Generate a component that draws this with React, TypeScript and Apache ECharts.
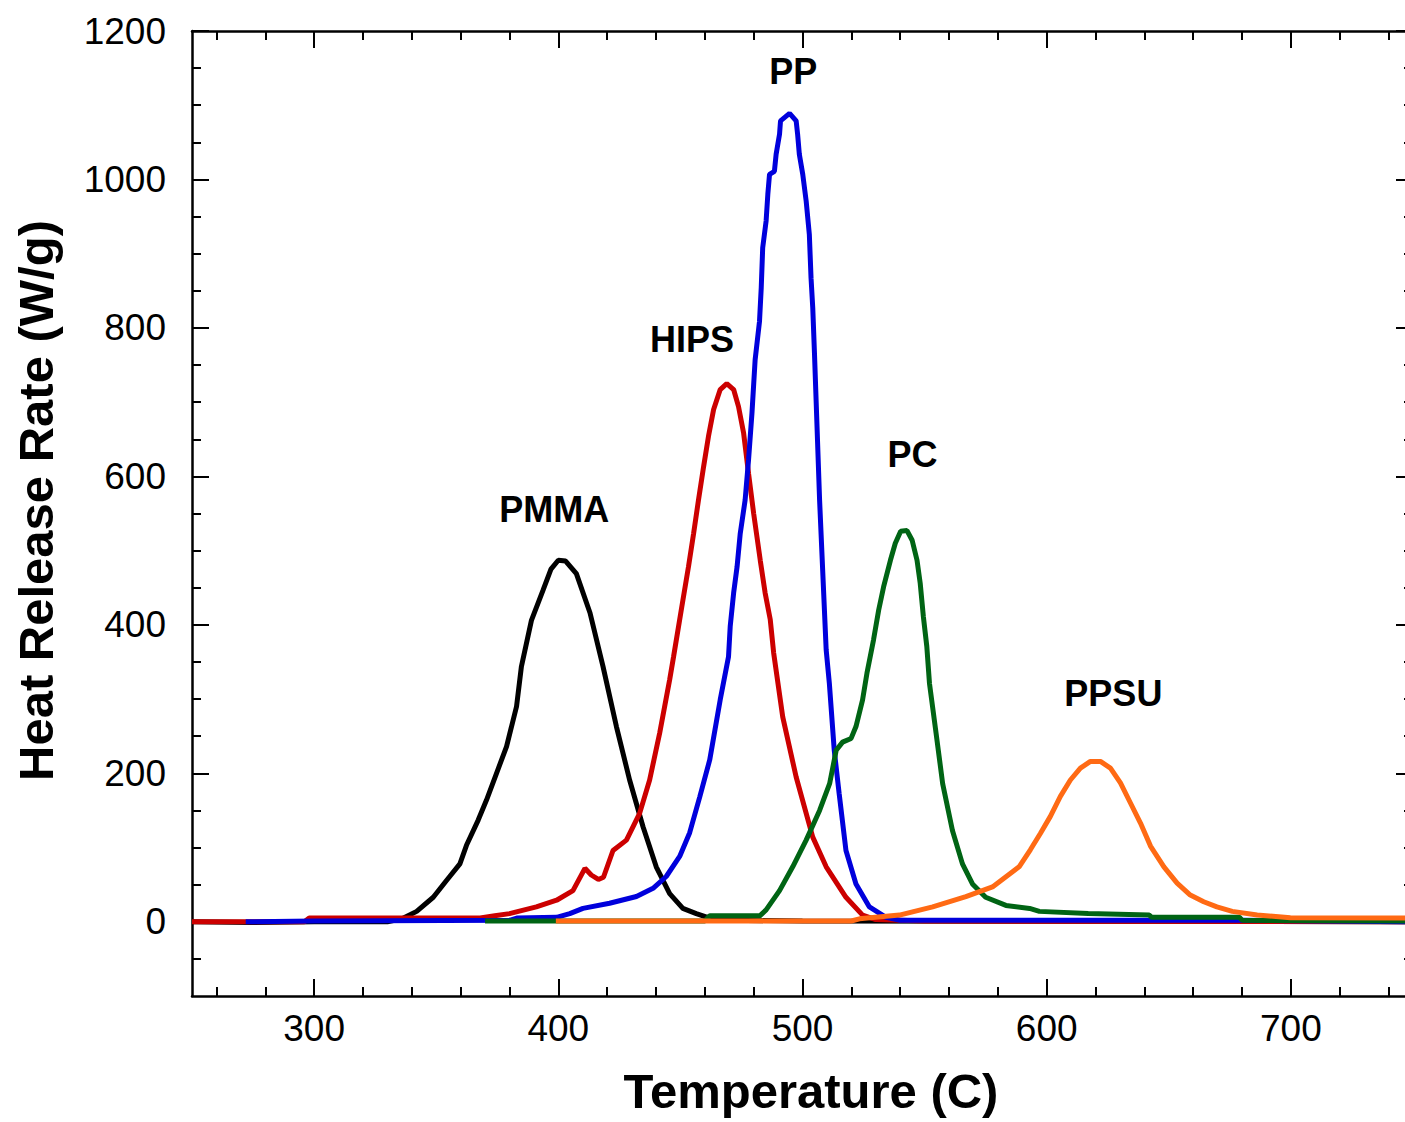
import React, { useEffect, useRef } from "react";
import * as echarts from "echarts";

// ---------- data ----------
const pmmaX = [250, 275, 300, 330, 336, 342, 348.8, 354.3, 359.7, 362.4, 367.2, 370.6, 374.7, 378.8, 382.9, 384.9, 389, 393.8, 397, 400, 403, 407.4, 413, 418.3, 423.8, 429.2, 434.7, 440.1, 445.6, 451, 456.5, 462, 470, 500, 750];
const pmmaY = [0, -1, 0, 0, 4, 14, 33, 56, 78, 103, 137, 164, 200, 236, 290, 344, 406, 447, 475, 487, 486, 469, 416, 344, 263, 191, 128, 74, 38, 18, 11, 5, 2, 1, 0];

const hipsX = [250, 296, 298, 368, 374, 380, 391, 399.3, 406, 410.9, 413.5, 416.4, 418.5, 422.4, 427.9, 433.3, 437.4, 441.5, 445.6, 447.2, 450.6, 453.3, 455.4, 457.4, 459.5, 461.5, 463.6, 466.3, 469, 471.8, 473.8, 475.9, 477.9, 480, 482.7, 484.7, 486.8, 488.2, 491.9, 497.4, 504.2, 509.7, 517.8, 524.6, 530, 550, 750];
const hipsY = [0, 0, 5, 5, 8, 11, 20, 29, 42, 72, 63, 57, 60, 96, 110, 146, 191, 254, 326, 357, 425, 478, 523, 568, 613, 654, 690, 717, 725, 717, 694, 658, 604, 550, 487, 443, 407, 362, 276, 195, 114, 74, 33, 9, 3, 1, 0];

const ppX = [272, 300, 380, 383, 399.3, 404.7, 410.1, 421, 432, 438.8, 444.2, 449.7, 453.8, 457.9, 462, 466.3, 469.7, 470.4, 471.8, 473.2, 474.5, 476.5, 477.9, 479.3, 480.6, 482.4, 483.1, 483.7, 485.1, 485.8, 486.5, 488.5, 489.2, 490.6, 491, 494.7, 497.4, 498, 498.7, 500.1, 501.5, 502.8, 503.5, 504.2, 504.9, 507, 509.7, 511, 513, 515, 517.8, 521.9, 527.4, 534.2, 540, 680, 750];
const ppY = [0, 1, 2, 5, 6, 11, 18, 25, 34, 45, 61, 88, 120, 168, 218, 299, 357, 398, 443, 478, 523, 568, 622, 685, 757, 809, 854, 908, 944, 980, 1007, 1011, 1034, 1061, 1079, 1089, 1079, 1061, 1034, 1007, 971, 926, 867, 827, 766, 568, 366, 321, 231, 173, 96, 51, 20, 6, 2, 2, 0];

const pcX = [370, 460, 462, 482, 482.5, 485.1, 490.6, 496, 501.5, 507, 511.1, 513.8, 516.4, 519.9, 521.9, 524.6, 526.4, 529.1, 531.2, 533.2, 536, 538, 540.2, 542.8, 544.9, 546.9, 548.2, 549.5, 550.9, 552, 554.7, 557.4, 561.4, 565.5, 569.6, 575, 583.3, 593, 597, 617, 642, 643, 679, 680, 750];
const pcY = [1, 1, 8, 8, 8, 16, 42, 74, 110, 150, 186, 231, 242, 247, 263, 299, 335, 380, 420, 451, 487, 510, 526, 527, 514, 487, 456, 411, 371, 321, 254, 186, 123, 78, 51, 33, 22, 18, 14, 11, 9, 6, 6, 2, 1];

const ppsuX = [399, 520, 523.3, 539.7, 553.3, 566.9, 577.8, 588.7, 593.3, 597.4, 601.5, 605.6, 609.7, 613.8, 617.9, 622, 626.1, 630.2, 634.3, 638.4, 642.5, 648, 653.4, 658.8, 664.3, 669.7, 676, 686.2, 699.8, 750];
const ppsuY = [1, 1, 4, 9, 20, 34, 47, 74, 97, 119, 142, 169, 191, 207, 216, 216, 207, 187, 160, 133, 102, 74, 52, 36, 27, 20, 14, 9, 5.5, 5];

const seriesNames = ["PMMA", "HIPS", "PP", "PC", "PPSU"];
const seriesColors = ["#000000", "#cc0000", "#0000dc", "#006414", "#ff6a14"];
const seriesXs = [pmmaX, hipsX, ppX, pcX, ppsuX];
const seriesYs = [pmmaY, hipsY, ppY, pcY, ppsuY];

// label anchor points (data coordinates)
const labelNames = ["PMMA", "HIPS", "PP", "PC", "PPSU"];
const labelX = [398.3, 454.8, 496.2, 545, 627.3];
const labelY = [555, 784, 1145, 629, 307];

// ticks
const xMajor = [300, 400, 500, 600, 700];
const xMinor = [260, 280, 320, 340, 360, 380, 420, 440, 460, 480, 520, 540, 560, 580, 620, 640, 660, 680, 720, 740];
const yMajor = [0, 200, 400, 600, 800, 1000, 1200];
const yMinor = [-50, 50, 100, 150, 250, 300, 350, 450, 500, 550, 650, 700, 750, 850, 900, 950, 1050, 1100, 1150];

const FONT = "'Liberation Sans', Arial, Helvetica, sans-serif";

export default function App() {
  const ref = useRef<HTMLDivElement>(null);

  useEffect(() => {
    if (!ref.current) return;
    const chart = echarts.init(ref.current, null, { renderer: "svg" });

    const lineStyle = { color: "#000", width: 2.5 };
    const fmt = (v: number) => String(v);
    const mkX = (position: string, values: number[], len: number, showLine: boolean, showLabel: boolean) => ({
      type: "value",
      position,
      min: 250,
      max: 750,
      axisLine: { show: showLine, onZero: false, lineStyle },
      axisTick: { show: true, inside: true, length: len, customValues: values, lineStyle: { color: "#000", width: 2 } },
      axisLabel: showLabel
        ? { show: true, customValues: values, formatter: fmt, fontSize: 37, color: "#000", fontFamily: FONT, margin: 14 }
        : { show: false },
      splitLine: { show: false },
    });
    const mkY = (position: string, values: number[], len: number, showLine: boolean, showLabel: boolean) => ({
      type: "value",
      position,
      min: -100,
      max: 1200,
      axisLine: { show: showLine, onZero: false, lineStyle },
      axisTick: { show: true, inside: true, length: len, customValues: values, lineStyle: { color: "#000", width: 2 } },
      axisLabel: showLabel
        ? { show: true, customValues: values, formatter: fmt, fontSize: 37, color: "#000", fontFamily: FONT, margin: 26, padding: [0, 0, 6, 0] }
        : { show: false },
      splitLine: { show: false },
    });

    const xAxes: any[] = [
      mkX("bottom", xMajor, 17, true, true),
      mkX("bottom", xMinor, 9, false, false),
      mkX("top", xMajor, 17, true, false),
      mkX("top", xMinor, 9, false, false),
    ];
    xAxes[0].name = "Temperature (C)";
    xAxes[0].nameLocation = "middle";
    xAxes[0].nameGap = 70;
    xAxes[0].nameTextStyle = { fontSize: 49, fontWeight: "bold", color: "#000", fontFamily: FONT, padding: [0, 0, 0, 17] };

    const yAxes: any[] = [
      mkY("left", yMajor, 17, true, true),
      mkY("left", yMinor, 9, false, false),
      mkY("right", yMajor, 17, true, false),
      mkY("right", yMinor, 9, false, false),
    ];
    yAxes[0].name = "Heat Release Rate (W/g)";
    yAxes[0].nameLocation = "middle";
    yAxes[0].nameGap = 132;
    yAxes[0].nameRotate = 90;
    yAxes[0].nameTextStyle = { fontSize: 49, fontWeight: "bold", color: "#000", fontFamily: FONT, padding: [0, 0, 0, 26] };

    const lineSeries = seriesNames.map((name, i) => ({
      name,
      type: "line",
      xAxisIndex: 0,
      yAxisIndex: 0,
      showSymbol: false,
      symbol: "none",
      data: seriesXs[i].map((x, j) => [x, seriesYs[i][j]]),
      lineStyle: { color: seriesColors[i], width: 5 },
      itemStyle: { color: seriesColors[i] },
      z: 2 + i,
    }));

    chart.setOption({
      animation: false,
      backgroundColor: "#fff",
      textStyle: { fontFamily: FONT },
      grid: { left: 192, right: 17, top: 31, bottom: 126, containLabel: false },
      xAxis: xAxes,
      yAxis: yAxes,
      series: lineSeries,
    });

    // curve labels placed through the chart's own coordinate conversion
    const texts = labelNames.map((n, i) => {
      const [px, py] = chart.convertToPixel({ xAxisIndex: 0, yAxisIndex: 0 }, [labelX[i], labelY[i]]) as number[];
      return {
        type: "text",
        x: px,
        y: py,
        z: 100,
        style: {
          text: n,
          fill: "#000",
          font: `bold 36px ${FONT}`,
          textAlign: "center",
          textVerticalAlign: "middle",
        },
      };
    });
    chart.setOption({ graphic: texts });

    return () => chart.dispose();
  }, []);

  return (
    <div style={{ position: "absolute", left: 0, top: 0, width: 1405, height: 1122, overflow: "hidden", background: "#fff" }}>
      <div ref={ref} style={{ width: 1430, height: 1122 }} />
    </div>
  );
}
